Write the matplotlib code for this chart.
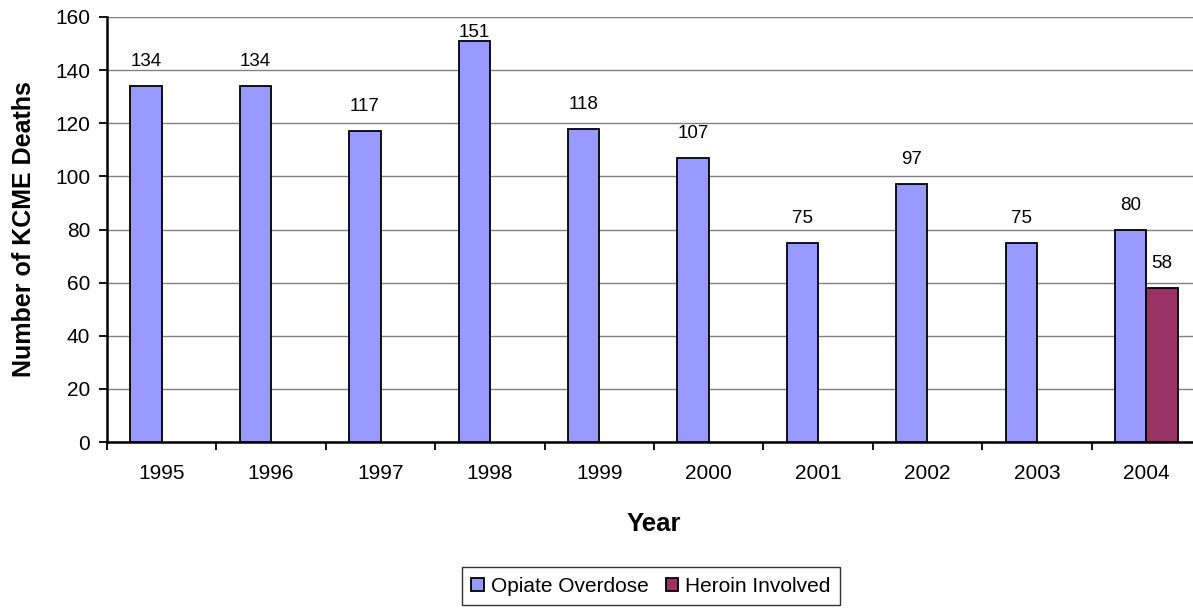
import matplotlib
matplotlib.use("Agg")
import matplotlib.pyplot as plt
import numpy as np

years = ["1995", "1996", "1997", "1998", "1999", "2000", "2001", "2002", "2003", "2004"]
opiate_overdose = [134, 134, 117, 151, 118, 107, 75, 97, 75, 80]
heroin_years = ["2004"]
heroin_involved = [58]

plt.rcParams["font.family"] = ["Liberation Sans", "DejaVu Sans"]

fig = plt.figure(figsize=(11.93, 6.08), dpi=100)
ax = fig.add_axes([107 / 1193, 166 / 608, 1094 / 1193, 425 / 608])

ymax = 160
ax.set_xlim(-0.5, 9.5)
ax.set_ylim(0, ymax)

x = np.arange(len(years))
bw = 1 / 3.5
ax.bar(x - bw / 2, opiate_overdose, width=bw, color="#9999FF", edgecolor="black",
       linewidth=1.3, label="Opiate Overdose", zorder=3)
hx = np.array([years.index(y) for y in heroin_years])
ax.bar(hx + bw / 2, heroin_involved, width=bw, color="#993366", edgecolor="black",
       linewidth=1.3, label="Heroin Involved", zorder=3)

# value labels sit ~20 px above each bar, kept inside the plot area
px_per_unit = (425 / ymax)
gap = 20 / px_per_unit


def label_bars(xs, vals):
    for xi, v in zip(xs, vals):
        ly = min(v + gap, ymax - gap)
        ax.text(xi, ly, str(v), ha="center", va="baseline", fontsize=13.5, zorder=4)


label_bars(x - bw / 2, opiate_overdose)
label_bars(hx + bw / 2, heroin_involved)

ax.set_yticks(np.arange(0, ymax + 1, 20))
ax.yaxis.grid(True, color="#808080", linewidth=1, zorder=0)
ax.set_axisbelow(True)

ax.set_xticks(x)
ax.set_xticklabels(years, fontsize=15)
ax.set_xticks(np.arange(-0.5, 10, 1), minor=True)
ax.tick_params(axis="x", which="major", length=0, pad=16)
ax.tick_params(axis="x", which="minor", length=6, width=1.3, color="black")
ax.tick_params(axis="y", length=6, width=1.3, labelsize=15, pad=6)

for s in ["top", "right"]:
    ax.spines[s].set_visible(False)
for s in ["left", "bottom"]:
    ax.spines[s].set_linewidth(1.8)
    ax.spines[s].set_color("black")

ax.set_xlabel("Year", fontsize=18.5, fontweight="bold", labelpad=21)
ax.set_ylabel("Number of KCME Deaths", fontsize=18, fontweight="bold", labelpad=14)

leg = fig.legend(loc="center", bbox_to_anchor=(651 / 1193, 22 / 608), ncol=2,
                 fontsize=15, frameon=True, fancybox=False, edgecolor="black",
                 handlelength=0.6, handleheight=0.6, handletextpad=0.35,
                 columnspacing=0.8, borderpad=0.45, borderaxespad=0)
leg.get_frame().set_linewidth(1.0)

fig.savefig("out.png", dpi=100)
